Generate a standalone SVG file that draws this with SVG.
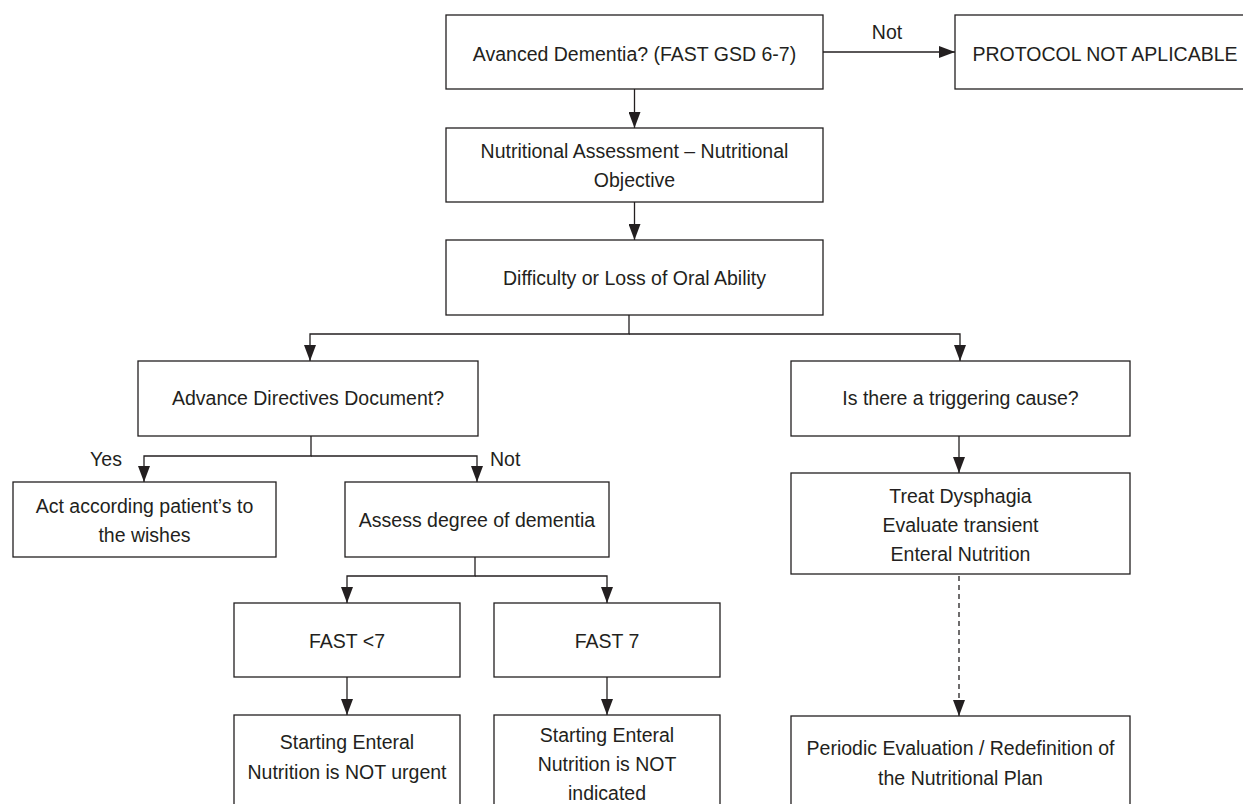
<svg xmlns="http://www.w3.org/2000/svg" width="1243" height="804" viewBox="0 0 1243 804">
  <style>
    .box { fill: #ffffff; stroke: #231f20; stroke-width: 1.3; }
    .lbl { font-family: "Liberation Sans", Arial, sans-serif; font-size: 19.5px; fill: #231f20; text-anchor: middle; }
    .edge { fill: none; stroke: #231f20; stroke-width: 1.3; }
    .dash { stroke-dasharray: 5 4; }
  </style>
  <defs>
    <marker id="arrow" markerUnits="userSpaceOnUse" markerWidth="16" markerHeight="12" refX="16" refY="6" orient="auto">
      <path d="M0,0 L16,6 L0,12 z" fill="#231f20"/>
    </marker>
  </defs>
  <rect width="1243" height="804" fill="#ffffff"/>

  <g id="connectors">
    <path class="edge" d="M634.5,89 V128" marker-end="url(#arrow)"/>
    <path class="edge" d="M823,52 H955" marker-end="url(#arrow)"/>
    <text class="lbl" x="887" y="39">Not</text>
    <path class="edge" d="M634.5,202 V240" marker-end="url(#arrow)"/>
    <path class="edge" d="M629,315 V334 H310 V361" marker-end="url(#arrow)"/>
    <path class="edge" d="M629,334 H960 V361" marker-end="url(#arrow)"/>
    <path class="edge" d="M311,436 V456 H144 V482" marker-end="url(#arrow)"/>
    <path class="edge" d="M311,456 H477 V482" marker-end="url(#arrow)"/>
    <text class="lbl" x="106" y="466">Yes</text>
    <text class="lbl" x="490" y="466" style="text-anchor:start">Not</text>
    <path class="edge" d="M475,557 V576 H347 V603" marker-end="url(#arrow)"/>
    <path class="edge" d="M475,576 H607 V603" marker-end="url(#arrow)"/>
    <path class="edge" d="M347,677 V715" marker-end="url(#arrow)"/>
    <path class="edge" d="M607,677 V715" marker-end="url(#arrow)"/>
    <path class="edge" d="M959,436 V473" marker-end="url(#arrow)"/>
    <path class="edge dash" d="M959,576 V716" marker-end="url(#arrow)"/>
  </g>

  <g id="n-advanced">
    <rect class="box" x="446" y="15" width="377" height="74"/>
    <text class="lbl" x="634.5" y="61">Avanced Dementia? (FAST GSD 6-7)</text>
  </g>
  <g id="n-protocol">
    <rect class="box" x="955" y="15" width="300" height="74"/>
    <text class="lbl" x="1105" y="61">PROTOCOL NOT APLICABLE</text>
  </g>
  <g id="n-assessment">
    <rect class="box" x="446" y="128" width="377" height="74"/>
    <text class="lbl" x="634.5" y="158">Nutritional Assessment – Nutritional</text>
    <text class="lbl" x="634.5" y="187">Objective</text>
  </g>
  <g id="n-difficulty">
    <rect class="box" x="446" y="240" width="377" height="75"/>
    <text class="lbl" x="634.5" y="285">Difficulty or Loss of Oral Ability</text>
  </g>
  <g id="n-directives">
    <rect class="box" x="138" y="361" width="340" height="75"/>
    <text class="lbl" x="308" y="405">Advance Directives Document?</text>
  </g>
  <g id="n-trigger">
    <rect class="box" x="791" y="361" width="339" height="75"/>
    <text class="lbl" x="960.5" y="405">Is there a triggering cause?</text>
  </g>
  <g id="n-act">
    <rect class="box" x="13" y="482" width="263" height="75"/>
    <text class="lbl" x="144.5" y="513">Act according patient’s to</text>
    <text class="lbl" x="144.5" y="542">the wishes</text>
  </g>
  <g id="n-assess">
    <rect class="box" x="345" y="482" width="264" height="75"/>
    <text class="lbl" x="477" y="527">Assess degree of dementia</text>
  </g>
  <g id="n-treat">
    <rect class="box" x="791" y="473" width="339" height="101"/>
    <text class="lbl" x="960.5" y="503">Treat Dysphagia</text>
    <text class="lbl" x="960.5" y="532">Evaluate transient</text>
    <text class="lbl" x="960.5" y="561">Enteral Nutrition</text>
  </g>
  <g id="n-fast-lt7">
    <rect class="box" x="234" y="603" width="226" height="74"/>
    <text class="lbl" x="347" y="648">FAST &lt;7</text>
  </g>
  <g id="n-fast7">
    <rect class="box" x="494" y="603" width="226" height="74"/>
    <text class="lbl" x="607" y="648">FAST 7</text>
  </g>
  <g id="n-not-urgent">
    <rect class="box" x="234" y="715" width="226" height="110"/>
    <text class="lbl" x="347" y="749">Starting Enteral</text>
    <text class="lbl" x="347" y="779">Nutrition is NOT urgent</text>
  </g>
  <g id="n-not-indicated">
    <rect class="box" x="494" y="715" width="226" height="110"/>
    <text class="lbl" x="607" y="742">Starting Enteral</text>
    <text class="lbl" x="607" y="771">Nutrition is NOT</text>
    <text class="lbl" x="607" y="800">indicated</text>
  </g>
  <g id="n-periodic">
    <rect class="box" x="791" y="716" width="339" height="110"/>
    <text class="lbl" x="960.5" y="755">Periodic Evaluation / Redefinition of</text>
    <text class="lbl" x="960.5" y="785">the Nutritional Plan</text>
  </g>
</svg>
